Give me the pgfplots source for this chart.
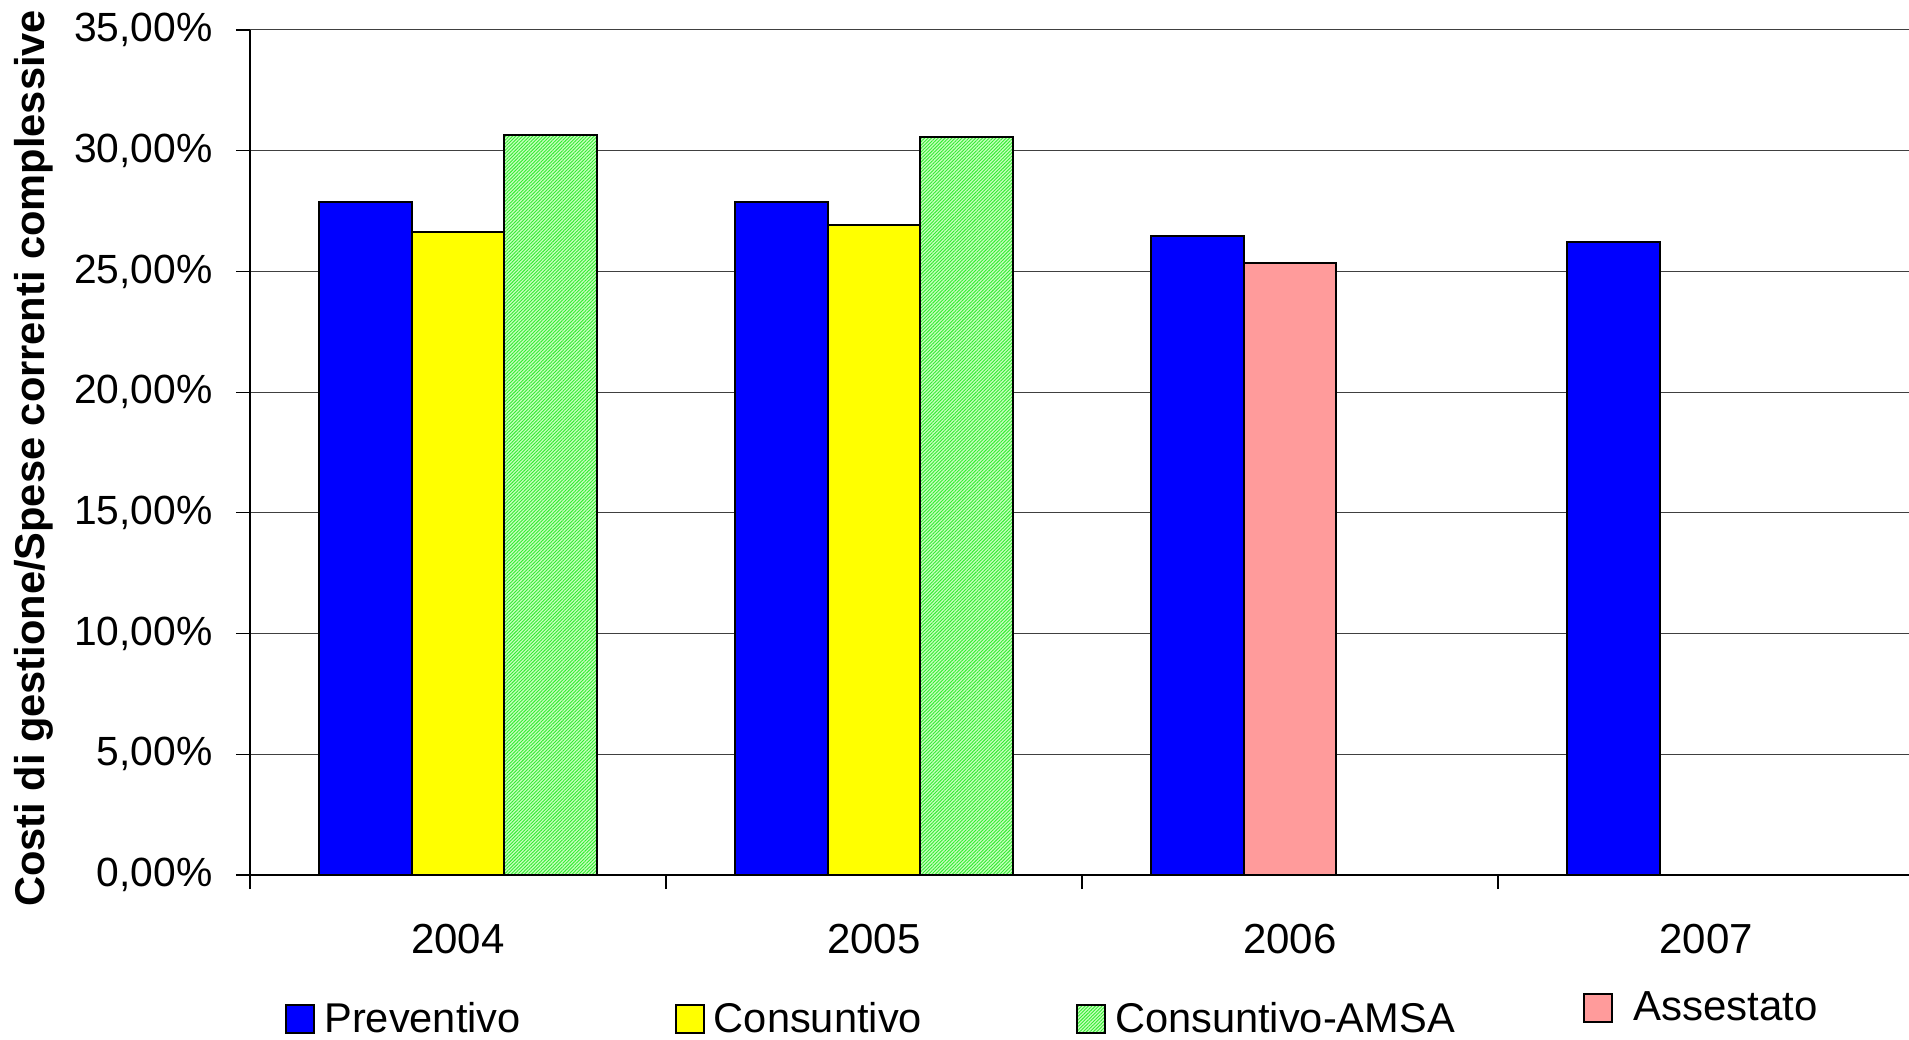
\documentclass[border=0pt]{standalone}
\usepackage{pgfplots}
\pgfplotsset{compat=1.18}
\usetikzlibrary{patterns.meta}
\usepackage{fontspec}
\setmainfont{Liberation Sans}
\definecolor{cPrev}{RGB}{0,0,255}
\definecolor{cCons}{RGB}{255,255,0}
\definecolor{cAmsaBg}{RGB}{200,255,190}
\definecolor{cAmsaLn}{RGB}{50,235,50}
\definecolor{cAss}{RGB}{255,155,155}
\pgfplotsset{
  common/.style={
    at={(0,0)}, anchor=south west,
    scale only axis, width=832pt, height=422.5pt,
    xmin=-0.5, xmax=3.5, ymin=0, ymax=35,
  },
  sqlegend/.style={
    legend image code/.code={\draw[##1, line width=1pt] (0pt,-7pt) rectangle (14pt,7pt);},
  },
}
\begin{document}
\begin{tikzpicture}
\begin{axis}[common, sqlegend,
  axis lines=left, axis line style={-, line width=0.6pt, black},
  tick align=outside, major tick length=7pt,
  tick style={line width=0.6pt, black},
  xtick={-0.5,0.5,1.5,2.5,3.5},
  x tick label as interval,
  xticklabels={2004,2005,2006,2007},
  ytick={0,5,10,15,20,25,30,35},
  yticklabels={{0,00\%},{5,00\%},{10,00\%},{15,00\%},{20,00\%},{25,00\%},{30,00\%},{35,00\%}},
  ymajorgrids, grid style={black!75, line width=0.5pt},
  yticklabel style={font=\fontsize{20.4}{24}\selectfont, anchor=east, inner sep=0pt, xshift=-11.5pt},
  xticklabel style={font=\fontsize{21}{24}\selectfont, anchor=north, inner sep=0pt, yshift=-17.5pt},
  ylabel={Costi di gestione/Spese correnti complessive},
  ylabel style={font=\fontsize{20.8}{24}\selectfont\bfseries, at={(axis description cs:-0.1298,0.493)}, anchor=center, rotate=0},
  legend columns=4,
  legend style={at={(axis description cs:0.021,-0.1704)}, anchor=west, draw=none, fill=none, inner sep=0pt,
    font=\fontsize{20.8}{24}\selectfont,
    /tikz/every odd column/.append style={column sep=2.5pt},
    /tikz/every even column/.append style={column sep=75pt}},
  bar width=0.223,
  every axis plot/.append style={draw=black, line width=1pt},
]
\addplot[ybar, bar shift=-0.223, fill=cPrev, draw=black] coordinates {(0,27.88) (1,27.88) (2,26.45) (3,26.22)};
\addlegendentry{Preventivo}
\addplot[ybar, bar shift=0, fill=cCons, draw=black] coordinates {(0,26.62) (1,26.92)};
\addlegendentry{Consuntivo}
\addplot[ybar, bar shift=0.223, draw=black, fill=cAmsaBg, postaction={pattern={Lines[angle=45,distance=1.2pt,line width=0.45pt]}, pattern color=cAmsaLn}] coordinates {(0,30.66) (1,30.56)};
\addlegendentry{Consuntivo-AMSA}
\addplot[ybar, bar shift=0, fill=cAss, draw=black, forget plot] coordinates {(2,25.33)};
\end{axis}
\begin{axis}[common, sqlegend, hide axis,
  legend style={at={(axis description cs:0.8011,-0.1574)}, anchor=west, draw=none, fill=none, inner sep=0pt,
    font=\fontsize{21}{24}\selectfont,
    /tikz/every odd column/.append style={column sep=8pt}},
]
\addlegendimage{fill=cAss, draw=black}
\addlegendentry{Assestato}
\end{axis}
\pgfresetboundingbox
\path[use as bounding box] (-125pt,-82pt) rectangle (829.5pt,437.5pt);
\end{tikzpicture}
\end{document}
